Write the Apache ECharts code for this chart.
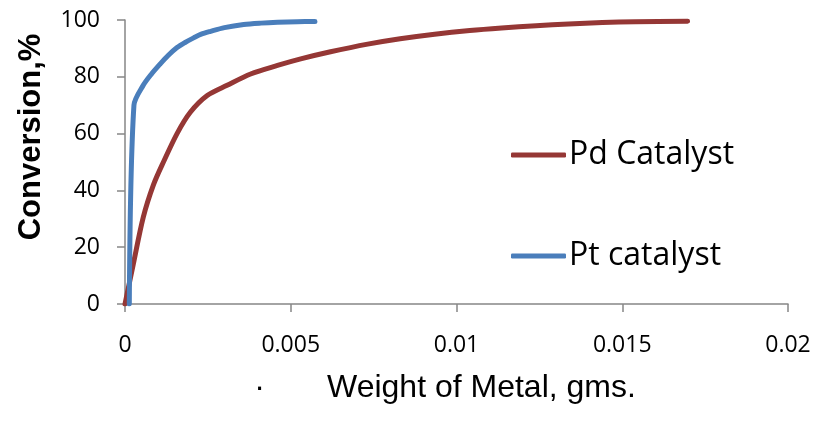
<!DOCTYPE html>
<html>
<head>
<meta charset="utf-8">
<script src="https://cdn.jsdelivr.net/npm/echarts@6/dist/echarts.min.js"></script>
<style>
html,body{margin:0;padding:0;background:#fff;}
#c{width:823px;height:428px;}
</style>
</head>
<body>
<div id="c"></div>
<script>
const seriesNames = ['Pd Catalyst', 'Pt catalyst'];
const pdWeight = [0, 0.00025, 0.00055, 0.00086, 0.00116, 0.00157, 0.00197, 0.00248, 0.00308, 0.00379, 0.0046, 0.0053, 0.0062, 0.00732, 0.0083, 0.00934, 0.0104, 0.01136, 0.0124, 0.01338, 0.0144, 0.0154, 0.01697];
const pdConversion = [0, 14, 30.5, 42, 50, 60, 67.5, 73.4, 77, 81, 84, 86.3, 88.8, 91.5, 93.4, 95, 96.3, 97.2, 98, 98.6, 99.1, 99.4, 99.6];
const ptWeight = [0.00013, 0.00027, 0.00055, 0.0008, 0.00106, 0.0013, 0.00157, 0.0018, 0.00207, 0.0023, 0.00258, 0.003, 0.00358, 0.0041, 0.0046, 0.0052, 0.00573];
const ptConversion = [0, 70, 77, 81, 84.5, 87.5, 90.3, 92, 93.7, 95, 96, 97.3, 98.4, 98.9, 99.2, 99.4, 99.5];

const zip = (xs, ys) => xs.map((x, i) => [x, ys[i]]);
const chart = echarts.init(document.getElementById('c'), null, {renderer: 'canvas'});
const axisColor = '#868686';
chart.setOption({
  backgroundColor: '#ffffff',
  animation: false,
  grid: {left: 125, right: 35, top: 20, bottom: 124, containLabel: false},
  legend: {
    orient: 'vertical',
    left: 511,
    top: 136,
    padding: 0,
    icon: 'roundRect',
    itemWidth: 55,
    itemHeight: 5,
    itemGap: 63,
    data: seriesNames,
    textStyle: {fontFamily: 'Open Sans', fontSize: 32, color: '#000', lineHeight: 38, padding: [0, 0, 0, -2]}
  },
  xAxis: {
    type: 'value',
    min: 0, max: 0.02, interval: 0.005,
    name: '·       Weight of Metal, gms.',
    nameLocation: 'middle',
    nameGap: 68,
    nameTextStyle: {fontFamily: 'Liberation Sans', fontSize: 32, color: '#000', padding: [0, 23, 0, 0]},
    axisLine: {show: true, onZero: false, lineStyle: {color: axisColor, width: 1.5}},
    axisTick: {show: true, inside: false, length: 8, lineStyle: {color: axisColor, width: 1.5}},
    axisLabel: {fontFamily: 'Open Sans', fontSize: 23, color: '#000', margin: 30,
      formatter: v => String(+v.toFixed(4))},
    splitLine: {show: false}
  },
  yAxis: {
    type: 'value',
    min: 0, max: 100, interval: 20,
    name: 'Conversion,%',
    nameLocation: 'middle',
    nameGap: 78,
    nameTextStyle: {fontFamily: 'Liberation Sans', fontWeight: 'bold', fontSize: 31, color: '#000', padding: [0, 0, 0, 50]},
    axisLine: {show: true, lineStyle: {color: axisColor, width: 1.5}},
    axisTick: {show: true, inside: false, length: 8, lineStyle: {color: axisColor, width: 1.5}},
    axisLabel: {fontFamily: 'Open Sans', fontSize: 23, color: '#000', margin: 25},
    splitLine: {show: false}
  },
  series: [
    {
      name: seriesNames[0], type: 'line', data: zip(pdWeight, pdConversion),
      symbol: 'none', smooth: 0.3, color: '#953735',
      lineStyle: {width: 5, color: '#953735', cap: 'round', join: 'round'}
    },
    {
      name: seriesNames[1], type: 'line', data: zip(ptWeight, ptConversion),
      symbol: 'none', smooth: 0.3, color: '#4A7EBB',
      lineStyle: {width: 5, color: '#4A7EBB', cap: 'round', join: 'round'}
    }
  ]
});
</script>
</body>
</html>
